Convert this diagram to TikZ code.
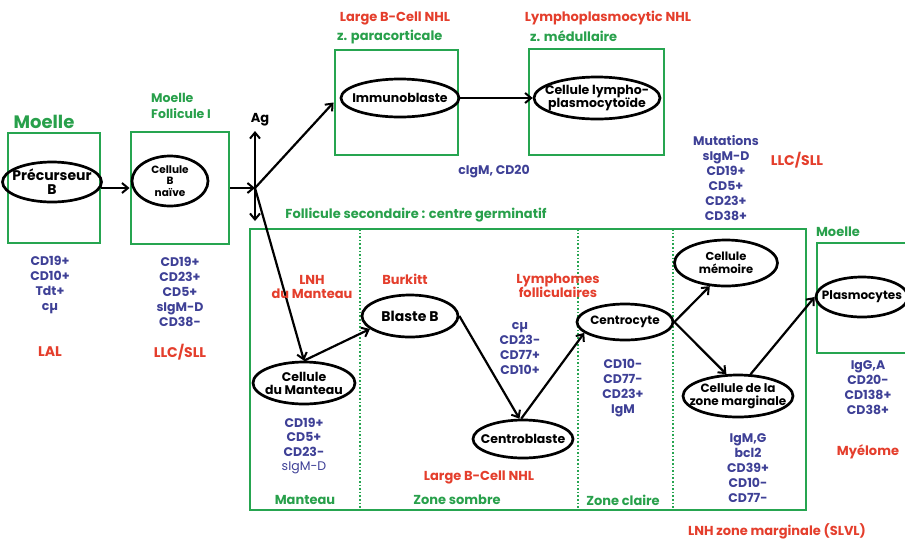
\documentclass[tikz,border=0pt]{standalone}
\usepackage{fontspec}
\setmainfont{Poppins}
\usetikzlibrary{shapes.geometric,arrows.meta}
\definecolor{gfr}{RGB}{38,165,80}
\definecolor{gtx}{RGB}{40,160,75}
\definecolor{rtx}{RGB}{228,62,44}
\definecolor{btx}{RGB}{62,64,150}
\newcommand{\fsz}[2]{\fontsize{#1}{#2}\selectfont}
\tikzset{
 gbox/.style={draw=gfr, line width=2.9pt, inner sep=0pt},
 cell/.style={ellipse, draw=black, line width=2.7pt, inner xsep=-25pt, inner ysep=-12pt, align=center, font=\bfseries\fsz{12}{13}},
 conn/.style={-{Straight Barb[length=6pt,width=10pt,line width=2pt]}, line width=2.2pt},
 dconn/.style={{Straight Barb[length=6pt,width=10pt,line width=2pt]}-{Straight Barb[length=6pt,width=10pt,line width=2pt]}, line width=2.4pt},
 blist/.style={text=btx, align=center, inner sep=0pt, font=\bfseries\fsz{12.5}{15}},
 rlab/.style={text=rtx, align=center, inner sep=0pt, font=\bfseries\fsz{13}{14}},
 glab/.style={text=gtx, align=center, inner sep=0pt, font=\bfseries\fsz{13}{15}},
 zsep/.style={draw=gfr, line width=1.6pt, dotted}
}
\begin{document}
\begin{tikzpicture}[x=1pt,y=-1pt]
\useasboundingbox (0,0) rectangle (905,539);
% frames
\node[gbox, minimum width=92pt, minimum height=110pt] (b1) at (54,188) {};
\node[gbox, minimum width=98pt, minimum height=112pt] (b2) at (180,188) {};
\node[gbox, minimum width=123pt, minimum height=105pt] (b3) at (396.5,102.5) {};
\node[gbox, minimum width=135pt, minimum height=106pt] (b4) at (596.5,102) {};
\node[gbox, minimum width=556pt, minimum height=281pt] (fol) at (528,369.5) {};
\node[gbox, minimum width=96pt, minimum height=110pt] (b5) at (865,298) {};
\draw[zsep] (360,229) -- (360,510);
\draw[zsep] (578,229) -- (578,510);
\draw[zsep] (673,229) -- (673,510);
% frame labels
\node[glab, font=\bfseries\fsz{18}{19}] (m1) at (44,122) {Moelle};
\node[glab, align=left, anchor=west, font=\bfseries\fsz{12.5}{16}] (m2) at (151,106) {Moelle\\Follicule I};
\node[rlab] (t1) at (395,18) {Large B-Cell NHL};
\node[glab, anchor=west] (t2) at (337,37) {z. paracorticale};
\node[rlab] (t3) at (608,18) {Lymphoplasmocytic NHL};
\node[glab, anchor=west] (t4) at (530,36) {z. médullaire};
\node[glab] (t5) at (416,215) {Follicule secondaire : centre germinatif};
\node[glab] (m3) at (838,232) {Moelle};
\node[glab] (z1) at (305,500) {Manteau};
\node[glab] (z2) at (457,500) {Zone sombre};
\node[glab] (z3) at (623,500) {Zone claire};
% cells
\node[cell, minimum width=99pt, minimum height=40pt, font=\bfseries\fsz{14}{14}] (pre) at (52,182) {Précurseur\\B};
\node[cell, minimum width=76pt, minimum height=50pt, font=\bfseries\fsz{10.5}{11.5}] (naive) at (170,181) {Cellule\\B\\naïve};
\node[cell, minimum width=118pt, minimum height=38pt, font=\bfseries\fsz{12.5}{13}] (immuno) at (400,98) {Immunoblaste};
\node[cell, minimum width=126pt, minimum height=42pt, font=\bfseries\fsz{12.5}{13}] (lympho) at (597,98) {Cellule lympho-\\plasmocytoïde};
\node[cell, minimum width=96pt, minimum height=42pt, font=\bfseries\fsz{14}{14}] (blaste) at (410,316) {Blaste B};
\node[cell, minimum width=102pt, minimum height=42pt, font=\bfseries\fsz{12.5}{13}] (mant) at (304,383) {Cellule\\du Manteau};
\node[cell, minimum width=100pt, minimum height=38pt, font=\bfseries\fsz{12.5}{13}] (cb) at (523,439) {Centroblaste};
\node[cell, minimum width=96pt, minimum height=36pt] (cc) at (625,322) {Centrocyte};
\node[cell, minimum width=103pt, minimum height=46pt, font=\bfseries\fsz{11.5}{13}] (mem) at (726,263) {Cellule\\mémoire};
\node[cell, minimum width=110pt, minimum height=42pt] (zm) at (738,396) {Cellule de la\\zone marginale};
\node[cell, minimum width=92pt, minimum height=40pt] (plasmo) at (862,297) {Plasmocytes};
% Ag
\node[inner sep=0pt, font=\bfseries\fsz{13}{13}] (ag) at (260,120) {Ag};
\coordinate (J) at (255,188);
\coordinate (agb) at (255,221);
\draw[dconn] (255,131) -- (agb);
% connectors
\draw[conn] (b1) -- (b2);
\draw[conn] (b2.east |- J) -- (J);
\draw[conn] (J) -- (b3.west);
\draw[conn] (J) -- (mant.north);
\draw[conn] (immuno) -- (lympho);
\draw[conn] (mant.north) -- (blaste.198);
\draw[conn] (blaste.east) -- (cb.100);
\draw[conn] (cb.95) -- (cc.195);
\draw[conn] (cc.east) -- (mem.235);
\draw[conn] (cc.east) -- (zm.118);
\draw[conn] (zm.60) -- (plasmo.west);
% marker lists
\node[blist] (l1) at (50,284.5) {CD19+\\CD10+\\Tdt+\\cµ};
\node[rlab, font=\bfseries\fsz{14}{14}] (r1) at (50,352) {LAL};
\node[blist] (l2) at (180,292) {CD19+\\CD23+\\CD5+\\sIgM-D\\CD38-};
\node[rlab, font=\bfseries\fsz{14}{14}] (r2) at (180,352) {LLC/SLL};
\node[blist] (l3) at (494,172) {cIgM, CD20};
\node[blist] (l4) at (726,178.5) {Mutations\\sIgM-D\\CD19+\\CD5+\\CD23+\\CD38+};
\node[rlab, font=\bfseries\fsz{14}{14}] (r3) at (797,160) {LLC/SLL};
\node[blist, font=\bfseries\fsz{12.5}{14.3}] (l5) at (304,446) {CD19+\\CD5+\\CD23-\\{\mdseries sIgM-D}};
\node[rlab] (r4) at (312,287) {LNH\\du Manteau};
\node[rlab] (r5) at (405,279) {Burkitt};
\node[rlab] (r6) at (558,286) {Lymphomes\\folliculaires};
\node[blist] (l6) at (520,348.5) {cµ\\CD23-\\CD77+\\CD10+};
\node[blist] (l7) at (623,388) {CD10-\\CD77-\\CD23+\\IgM};
\node[blist] (l8) at (748,468) {IgM,G\\bcl2\\CD39+\\CD10-\\CD77-};
\node[blist] (l9) at (868,388) {IgG,A\\CD20-\\CD138+\\CD38+};
\node[rlab] (r7) at (868,452) {Myélome};
\node[rlab] (r8) at (479,477) {Large B-Cell NHL};
\node[rlab] (r9) at (777,531) {LNH zone marginale (SLVL)};
\end{tikzpicture}
\end{document}
